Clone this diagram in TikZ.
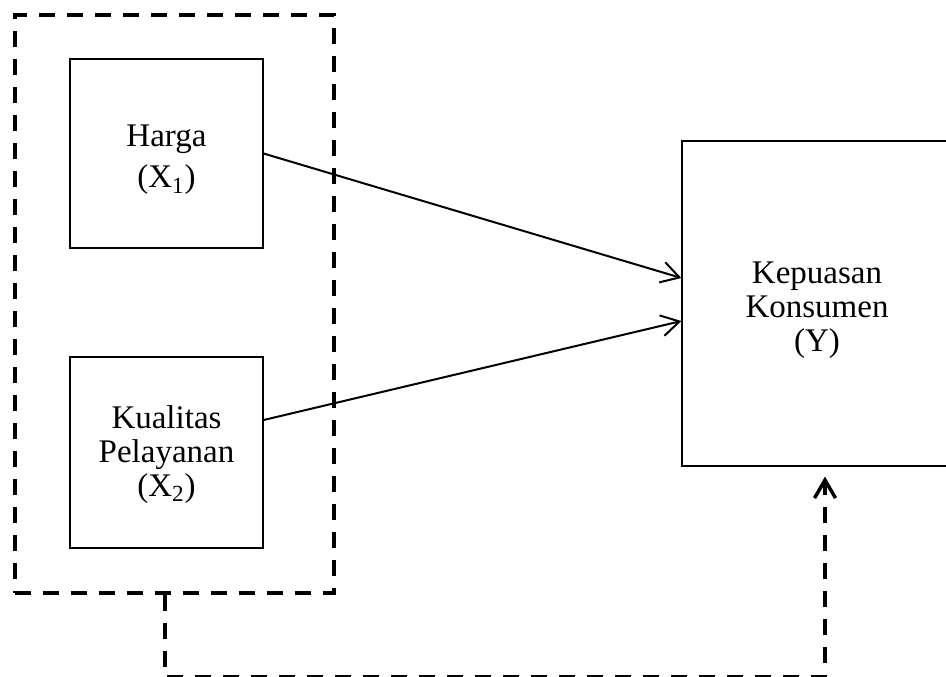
\documentclass[tikz,border=0pt]{standalone}
\usepackage{fontspec}
\setmainfont{Liberation Serif}
\usetikzlibrary{arrows.meta}
\begin{document}
\begin{tikzpicture}[x=0.5pt,y=-0.5pt,
  kotak/.style={draw, line width=0.6pt, inner sep=0pt, align=center,
    font=\fontsize{16.5}{17}\selectfont},
  panah/.style={line width=1pt, -{Straight Barb[length=9pt,width=10.5pt]}},
  putus/.style={line width=1.75pt, dash pattern=on 8pt off 6pt}]

\clip (0,0) rectangle (946,676);

\node[draw, putus, minimum width=159.5pt, minimum height=289pt] (kelompok) at (174.5,304) {};

\node[kotak, minimum width=96.5pt, minimum height=94.5pt] (harga) at (166.5,153.5) {\rule{0pt}{17.5pt}Harga\\[3.5pt](X\textsubscript{1})};
\node[kotak, minimum width=96.5pt, minimum height=95.5pt] (kualitas) at (166.5,452.5) {\rule{0pt}{13.5pt}Kualitas\\Pelayanan\\(X\textsubscript{2})};
\node[kotak, minimum width=135pt, minimum height=162.5pt] (kepuasan) at (817,303.5) {\rule{0pt}{17.5pt}Kepuasan\\Konsumen\\(Y)};

\draw[panah] (harga.east) -- ([yshift=12.75pt]kepuasan.west);
\draw[panah] ([yshift=16.25pt]kualitas.east) -- ([yshift=-8.75pt]kepuasan.west);

\coordinate (sudut) at (825,677);
\draw[putus, -{Straight Barb[length=9pt,width=10.5pt]}, shorten >=5pt] ([xshift=-4.75pt]kelompok.south) |- (sudut) -- ([xshift=4pt]kepuasan.south);
\end{tikzpicture}
\end{document}
